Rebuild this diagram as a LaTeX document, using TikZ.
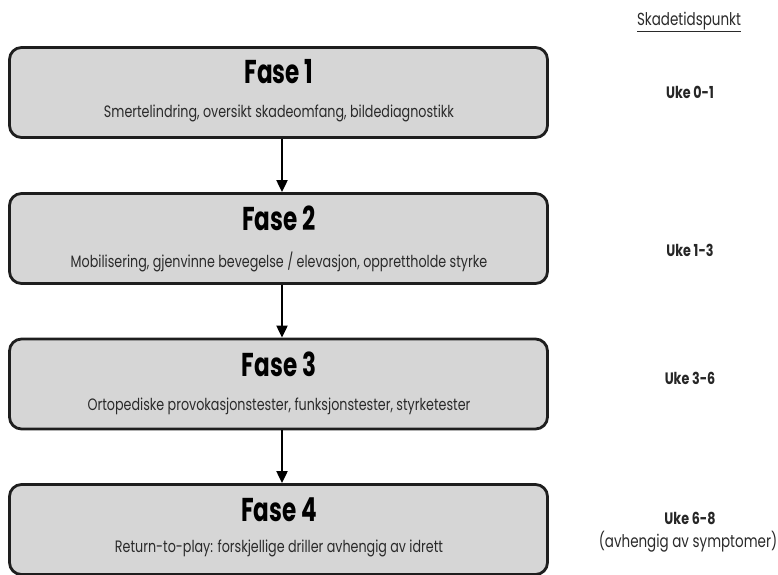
\documentclass[tikz,border=0pt]{standalone}
\usepackage{fontspec}
\setmainfont{Poppins}
\newfontfamily\titlefont[FakeStretch=0.70]{Poppins}
\newfontfamily\subfont[FakeStretch=0.77]{Poppins}
\usetikzlibrary{arrows.meta}
\definecolor{boxfill}{HTML}{D6D6D6}
\definecolor{boxline}{HTML}{1E1E1E}
\definecolor{subtext}{HTML}{2A2A2A}
\tikzset{
  phase/.style={draw=boxline, line width=2.8pt, fill=boxfill, rounded corners=12pt,
    minimum width=538pt, minimum height=90pt, inner sep=0pt},
  ftitle/.style={font=\titlefont\bfseries\fontsize{33}{35}\selectfont, inner sep=0pt, text=black},
  fsub/.style={font=\subfont\fontsize{16.5}{18}\selectfont, inner sep=0pt, text=subtext},
  uke/.style={font=\subfont\bfseries\fontsize{16.5}{18}\selectfont, inner sep=0pt, text=black!85},
  note/.style={font=\subfont\fontsize{17.5}{19}\selectfont, inner sep=0pt, text=subtext},
  flow/.style={line width=2pt, draw=black, -{Triangle[length=12pt,width=11pt]}},
}
\begin{document}
\begin{tikzpicture}[x=1pt,y=-1pt]
\useasboundingbox (0,0) rectangle (778,574);
% boxes
\node[phase] (f1) at (278.5,92.5) {};
\node[phase] (f2) at (278.5,238.5) {};
\node[phase] (f3) at (278.5,384) {};
\node[phase] (f4) at (278.5,529.5) {};
% titles
\node[ftitle] (t1) at (279,72) {Fase 1};
\node[fsub] (s1) at (279,113) {Smertelindring, oversikt skadeomfang, bildediagnostikk};
\node[ftitle] (t2) at (279,218) {Fase 2};
\node[fsub] (s2) at (279,262) {Mobilisering, gjenvinne bevegelse / elevasjon, opprettholde styrke};
\node[ftitle] (t3) at (279,364) {Fase 3};
\node[fsub] (s3) at (279,406) {Ortopediske provokasjonstester, funksjonstester, styrketester};
\node[ftitle] (t4) at (279,510) {Fase 4};
\node[fsub] (s4) at (279,548) {Return-to-play: forskjellige driller avhengig av idrett};
% arrows
\draw[flow] ([xshift=3.5pt]f1.south) -- ([xshift=3.5pt]f2.north);
\draw[flow] ([xshift=3.5pt]f2.south) -- ([xshift=3.5pt]f3.north);
\draw[flow] ([xshift=3.5pt]f3.south) -- ([xshift=3.5pt]f4.north);
% right column
\node[note] (sk) at (689,22) {\underline{Skadetidspunkt}};
\node[uke] (u1) at (690,92) {Uke 0-1};
\node[uke] (u2) at (690,250) {Uke 1-3};
\node[uke] (u3) at (690,378) {Uke 3-6};
\node[uke] (u4) at (690,518) {Uke 6-8};
\node[note] (u4b) at (688,542) {(avhengig av symptomer)};
\end{tikzpicture}
\end{document}
